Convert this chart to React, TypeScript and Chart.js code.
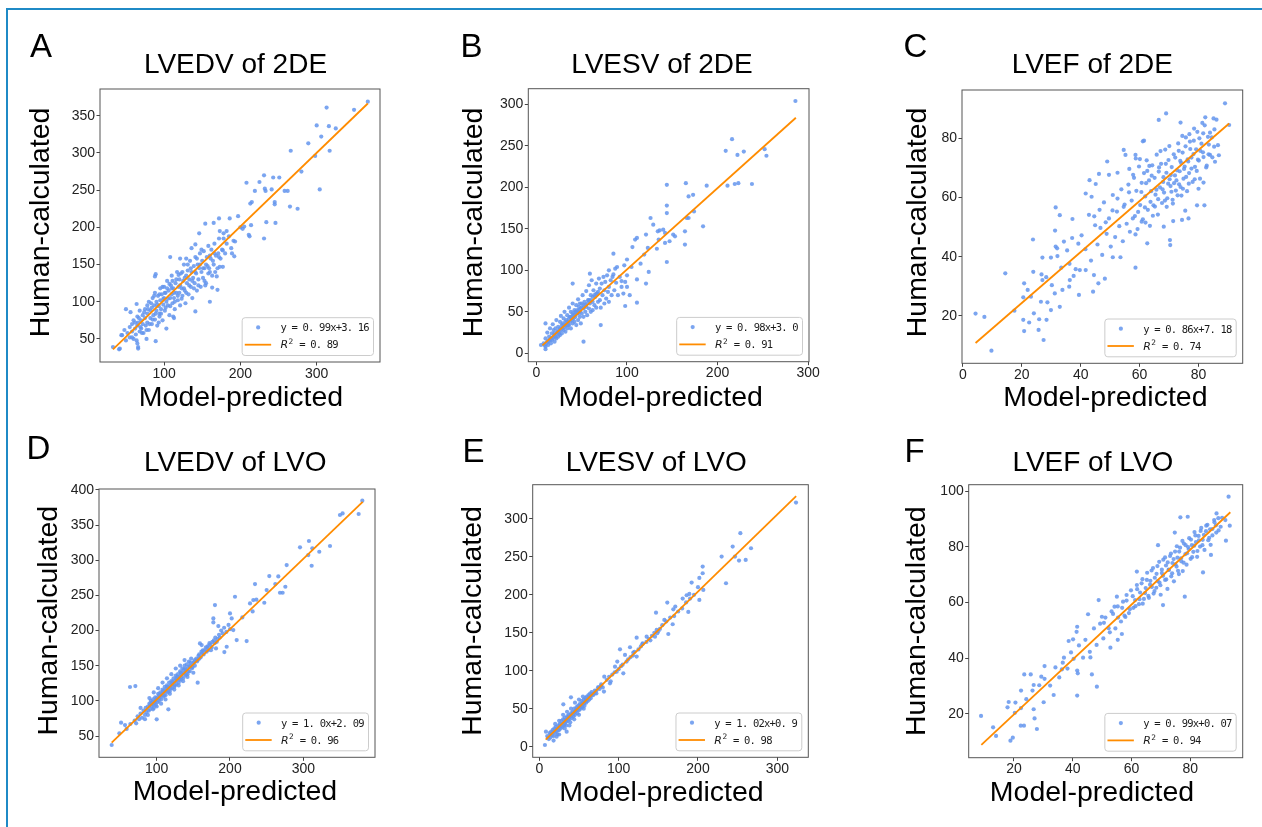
import React, { useEffect, useRef } from "react";
import { Chart, registerables } from "chart.js";

Chart.register(...registerables);

// ---------------- shared text ----------------
const X_LABEL = "Model-predicted";
const Y_LABEL = "Human-calculated";

// ---------------- Panel A : LVEDV of 2DE ----------------
const A_TITLE = "LVEDV of 2DE";
const A_X_TICKS = [100, 200, 300];
const A_Y_TICKS = [50, 100, 150, 200, 250, 300, 350];
const A_X_RANGE = [16, 383];
const A_Y_RANGE = [19, 386];
const A_FIT = [[33, 36], [367, 366.5]];
const A_EQ = "y = 0. 99x+3. 16";
const A_R2 = " = 0. 89";
const A_POINTS = [
  [367,369],[313,361],[349,358],[300,337],[316,336],[325,333],[306,322],[289,313],[266,303],[317,303],[298,296],[280,275],
  [231,270],[208,260],[225,261],[243,267],[251,267],[232,252],[233,249],[219,249],[241,251],[258,249],[262,249],[304,251],
  [245,234],[245,231],[213,232],[215,234],[265,228],[275,225],[200,200],[203,198],[205,201],[214,203],[211,190],[212,188],
  [234,207],[246,206],[231,185],[197,215],[186,212],[172,212],[182,195],[191,182],[193,181],[178,185],[177,169],[189,165],
  [192,161],[166,165],[173,147],[177,147],[169,134],[170,116],[160,100],[141,87],[163,119],[154,122],[159,145],[172,160],
  [146,192],[154,205],[165,206],[173,195],[141,177],[136,172],[129,158],[121,158],[108,160],[89,137],[88,134],[64,97],
  [50,90],[56,86],[44,55],[33,39],[41,36],[42,37],[66,39],[66,37],[65,44],[77,50],[89,47],[103,64],[112,80],[113,78],[94,84],
  [45,55],[48,62],[50,48],[52,58],[55,52],[55,66],[58,70],[58,60],[60,50],[60,75],[62,64],[63,56],[65,80],[65,68],[66,72],
  [68,60],[68,88],[70,75],[70,64],[72,82],[72,70],[73,58],[75,90],[75,78],[76,68],[78,95],[78,84],[78,72],[80,62],[80,100],
  [82,88],[82,78],[84,92],[84,70],[85,105],[86,82],[87,95],[88,76],[88,112],[90,100],[90,88],[91,68],[92,108],[93,94],[94,80],
  [95,118],[95,102],[96,90],[97,110],[98,75],[99,96],[100,105],[100,120],[101,88],[102,112],[103,100],[104,128],[105,95],
  [106,115],[107,82],[108,105],[109,122],[110,110],[110,135],[111,98],[112,118],[113,105],[114,90],[115,125],[116,112],
  [117,140],[118,102],[119,120],[120,130],[120,112],[121,95],[122,138],[123,118],[124,108],[125,128],[126,150],[127,115],
  [128,98],[129,135],[130,125],[131,142],[132,110],[133,130],[134,155],[135,120],[136,140],[137,105],[138,132],[139,148],
  [140,125],[141,160],[142,138],[143,115],[144,150],[145,130],[146,145],[147,165],[148,120],[149,140],[150,155],[151,132],
  [152,168],[153,145],[155,125],[156,160],[157,148],[158,175],[160,140],[161,158],[162,170],[163,135],[165,150],[166,178],
  [168,162],[170,145],[172,185],[174,158],[176,170],[178,192],[180,165],[182,178],[185,188],[188,172],
  [58,52],[62,72],[64,48],[67,78],[69,66],[71,58],[74,86],[77,62],[79,90],[81,70],[83,98],[85,76],[87,108],[89,84],[91,96],
  [93,72],[94,110],[96,84],[98,120],[99,104],[101,112],[102,92],[104,118],[105,104],[107,124],[108,94],[110,118],[111,128],
  [113,112],[114,100],[116,130],[118,108],[119,136],[121,122],[123,104],[124,140],[126,118],[127,132],[129,112],[131,150],
  [133,122],[135,145],[137,128],[139,118],[141,140],[143,158],[145,122],[147,150],[149,170],[151,145],[153,128],[155,150],
  [158,138],[160,162],[164,155],[167,140],[171,165],
];

// ---------------- Panel B : LVESV of 2DE ----------------
const B_TITLE = "LVESV of 2DE";
const B_X_TICKS = [0, 100, 200, 300];
const B_Y_TICKS = [0, 50, 100, 150, 200, 250, 300];
const B_X_RANGE = [-9, 301];
const B_Y_RANGE = [-10.1, 318.8];
const B_FIT = [[6.6, 9.5], [286.5, 283.8]];
const B_EQ = "y = 0. 98x+3. 0";
const B_R2 = " = 0. 91";
const B_POINTS = [
  [286,304],[216,258],[209,244],[222,239],[229,243],[252,246],[254,238],[144,203],[165,205],[188,202],[211,202],[219,204],
  [223,205],[238,204],[168,189],[173,191],[144,178],[144,169],[174,171],[166,163],[168,163],[184,153],[164,147],[164,131],
  [126,163],[129,155],[134,147],[136,148],[140,149],[142,145],[151,143],[153,141],[147,135],[142,133],[135,137],[109,137],
  [111,139],[121,143],[123,127],[133,126],[144,110],[106,128],[119,119],[115,108],[124,98],[121,84],[111,89],[111,61],[98,57],
  [103,70],[100,80],[94,87],[85,120],[100,113],[97,106],[89,104],[87,102],[80,100],[84,92],[105,104],[71,34],[52,14],[40,84],
  [59,96],[10,5],[5,10],[10,36],
  [8,12],[10,8],[10,18],[12,14],[12,25],[13,10],[14,20],[15,16],[15,30],[16,12],[17,24],[18,18],[18,35],[19,28],[20,14],
  [20,22],[21,30],[22,18],[22,40],[23,26],[24,32],[24,20],[25,28],[26,38],[26,22],[27,45],[28,30],[28,24],[29,36],[30,28],
  [30,42],[31,50],[32,34],[32,26],[33,40],[34,46],[34,30],[35,38],[36,55],[36,34],[37,44],[38,30],[38,50],[39,40],[40,36],
  [40,60],[41,46],[42,38],[42,52],[43,44],[44,34],[44,58],[45,48],[46,40],[46,65],[47,52],[48,44],[48,60],[49,36],[50,55],
  [50,48],[51,70],[52,58],[52,44],[53,62],[54,50],[55,75],[55,56],[56,46],[57,64],[58,54],[58,82],[59,60],[60,50],[60,70],
  [61,88],[62,62],[62,52],[63,76],[64,58],[65,68],[66,84],[66,55],[67,72],[68,62],[69,90],[70,78],[70,64],[71,55],[72,84],
  [73,70],[74,92],[75,60],[75,76],[76,86],[77,66],[78,94],[79,74],[80,80],[80,62],[82,88],[83,70],[85,95],[86,76],[88,85],
  [90,70],[92,92],[94,80],[96,72],[98,86],[100,94],
  [9,10],[11,12],[13,14],[14,16],[16,18],[17,16],[19,20],[20,24],[21,20],[23,24],[24,26],[25,24],[26,30],[27,28],[28,34],
  [29,30],[30,34],[31,32],[32,38],[33,34],[34,38],[35,34],[36,42],[37,38],[38,44],[39,42],[40,48],[41,42],[42,46],[43,50],
  [44,48],[45,52],[46,48],[47,56],[48,50],[49,54],[50,60],[52,54],[54,58],[56,60],[58,64],[60,64],[62,68],[64,70],[66,72],
  [68,74],
];

// ---------------- Panel C : LVEF of 2DE ----------------
const C_TITLE = "LVEF of 2DE";
const C_X_TICKS = [0, 20, 40, 60, 80];
const C_Y_TICKS = [20, 40, 60, 80];
const C_X_RANGE = [-0.3, 95];
const C_Y_RANGE = [4.05, 96.2];
const C_FIT = [[4.3, 10.9], [90.4, 84.9]];
const C_EQ = "y = 0. 86x+7. 18";
const C_R2 = " = 0. 74";
const C_POINTS = [
  [89,91.7],[90.4,84.4],[69,88.3],[66.5,86.1],[82.3,87],[85.1,86.6],[73.9,85.2],[61.1,78.9],[61.5,79.1],[54.6,76],[55.2,74.3],
  [58.6,74.3],[49,72.1],[46.2,67.9],[49.6,67.6],[52.5,68.3],[43,65.8],[45.1,64.5],[41.7,61.3],[43.7,60.2],[31.5,56.6],[32.9,54],
  [37.2,52.7],[31.3,48.8],[23.8,45.8],[31.5,43.4],[32,42.8],[29.9,39.7],[27,39.7],[14.4,34.4],[23.9,34.9],[26.7,34],[27,32.1],
  [20.8,31],[20.5,26.3],[22,28.8],[26.5,24.8],[28.7,24.6],[24.1,20.9],[20.5,18.7],[22.5,17.8],[25.9,18.9],[28.4,18.7],
  [25.7,15.3],[20.8,14.9],[27.4,11.9],[9.7,8.3],[4.3,20.8],[7.3,19.7],[17.5,21.8],[23.1,26.5],[31.2,27.6],[32.9,23.1],[29.9,22],
  [33.8,28.8],[36.1,29.9],[36.3,32.1],[37.6,33.5],[39.4,27.1],[39.7,35.5],[41.7,35.5],[44.5,33.8],[44.2,28.2],[46,31],
  [48.2,32.6],[50.9,39.8],[53.5,39.8],[58.6,36.3],[70.3,45.6],[70.4,43.9],[79.5,57.3],[82,57.3],[75.5,55.5],[76.6,52.9],
  [74.4,52.4],[68.2,50.1],[71.4,52],[62,51.5],[62.6,44.5],[81.7,65],[80,62.9],[85.6,72],[83.4,74.5],[83.9,81.8],[81.6,81.6],
  [40.3,47.2],[41.6,42.5],[42.8,54.1],[43.5,38.7],[44.9,50.6],[45.7,44.1],[46.4,55.8],[47.3,40.6],[47.9,58.3],[48.8,47.7],
  [49.6,52.9],[50.2,43.4],[50.9,60.8],[51.7,46.6],[52.3,55.2],[53.1,50.3],[53.8,62.7],[54.3,45.2],[54.9,57.6],[55.6,51.1],
  [56.2,64.3],[56.7,48.4],[57.3,58.9],[57.8,67.6],[58.4,53.7],[58.9,62.2],[59.3,49.3],[59.8,70.4],[60.2,57.4],[60.7,64.9],
  [61.1,52.6],[61.5,68.2],[61.9,60.3],[62.4,72.5],[62.8,55.8],[63.2,65.7],[63.5,50.4],[63.9,62.1],[64.3,70.8],[64.7,57.3],
  [65.1,66.6],[65.4,60.9],[65.8,74.4],[66.2,54.2],[66.5,68.7],[66.9,63.4],[67.3,71.3],[67.6,58.1],[68,65.2],[68.3,61.6],
  [68.7,76.1],[69.1,68.3],[69.4,59.7],[69.8,72.6],[70.2,66.1],[70.5,63.8],[70.9,70.2],[71.3,57.9],[71.6,74.5],[72,67.4],
  [72.3,62.3],[72.7,69.1],[73.1,78.2],[73.4,64.4],[73.8,72.3],[74.2,60.6],[74.6,75.1],[74.9,66.3],[75.3,70.4],[75.7,80.2],
  [76.1,62.1],[76.5,72.1],[76.8,68.2],[77.2,76.3],[77.6,73.4],[78,65.2],[78.4,79.1],[78.8,70.3],[79.2,76.2],[79.6,82.1],
  [80.1,72.4],[80.5,66.3],[81,78.1],[81.5,75.2],[82.1,84.3],[82.6,70.1],[83.2,80.4],[83.9,74.3],[84.5,80.2],[85.3,77.1],
  [86.1,86.2],[86.9,74.2],[35.4,42.1],[36.2,37.6],[37.1,46.3],[38.3,35.8],[39.2,44.4],[33.4,36.3],[34.3,45.1],[30.2,30.4],
  [32.1,40.2],[28.3,33.1],
  [56.4,61.7],[57.7,52.9],[58.1,66.6],[59.5,55.1],[60.6,61.8],[60.1,72.9],[61.8,56.6],[62.2,64.8],[62.6,68.9],[63.7,58.5],
  [63.3,70.6],[64.5,53.8],[64.1,67.3],[65.7,62.6],[65.2,56.9],[66.6,70.1],[66.3,59.4],[67.8,62.7],[67.1,75.6],[68.6,58.9],
  [68.1,66.8],[68.9,71.3],[69.7,64.6],[69.2,56.8],[70.6,67.5],[70.1,77.3],[70.8,61.9],[71.7,64.8],[71.2,59.2],[72.5,65.7],
  [72.1,73.4],[72.9,60.7],[73.6,68.8],[73.3,75.7],[73.9,63.5],[74.7,62.9],[74.1,71.6],[74.5,80.7],[75.8,66.9],[75.1,69.6],
  [75.6,77.2],[76.7,64.6],[76.3,72.8],[76.9,81.3],[77.6,69.7],[77.1,78.8],[78.7,66.1],[78.3,74.6],[78.5,83.2],[79.8,72.7],
  [79.4,68.9],[80.6,75.7],[80.3,79.9],[81.7,73.6],[81.3,85.1],[82.8,70.7],[83.5,77.8],[84.7,73.5],[85.4,82.9],[86.6,77.6],
  [60.7,51.8],[58.6,47.5],[54.6,56.8],[52.5,59.6],[50.8,55.6],[48.5,51.6],[46.7,49.7],[44.6,53.6],[56.5,69.6],[58.7,73.1],
];

// ---------------- Panel D : LVEDV of LVO ----------------
const D_TITLE = "LVEDV of LVO";
const D_X_TICKS = [100, 200, 300];
const D_Y_TICKS = [50, 100, 150, 200, 250, 300, 350, 400];
const D_X_RANGE = [21.3, 397.8];
const D_Y_RANGE = [19.7, 401.4];
const D_FIT = [[38.6, 40.7], [381, 383]];
const D_EQ = "y = 1. 0x+2. 09";
const D_R2 = " = 0. 96";
const D_POINTS = [
  [380.5,384.8],[375.5,365.8],[350,364.4],[353.6,366.7],[307.7,327.4],[295.5,318.4],[312.3,317],[336.4,320.3],[321.8,312.1],
  [306.8,307.4],[311.4,292.2],[277.3,293.1],[253.6,277.5],[265.9,277],[261.8,266.1],[234.1,266.1],[250,257.6],[268.2,253.8],
  [271.8,253.8],[275.5,262.3],[246.8,239.6],[231.8,243.4],[236,244],[206.8,248.1],[227.3,238.6],[230.9,227.3],[222.7,185.1],
  [216.8,218.7],[179.5,236.3],[200,224.4],[202.3,217.3],[177.3,217.3],[177.3,211.6],[184.1,206.4],[204.5,200.7],[209.1,186.5],
  [195.5,177],[192.3,169.4],[180.9,174.6],[161.4,179.4],[159,181.7],[155.9,125.8],[93.2,97.4],[100,73.7],[115.9,87.9],
  [63.6,119.7],[70.9,121.1],[38.6,37.2],[49.1,53.8],[51.4,69],[56.8,65.6],[59,60],[64.1,67.1],
  [70,72],[72,68],[74,78],[76,74],[78,82],[80,76],[82,86],[84,80],[85,90],[86,84],[88,92],[89,86],[90,96],[91,88],[92,100],
  [93,92],[94,96],[95,102],[96,90],[97,98],[98,105],[99,94],[100,104],[101,98],[102,110],[103,100],[104,106],[105,112],
  [106,102],[107,108],[108,116],[109,106],[110,112],[111,120],[112,108],[113,114],[114,122],[115,112],[116,118],[117,126],
  [118,114],[119,122],[120,128],[121,118],[122,124],[123,132],[124,120],[125,128],[126,136],[127,124],[128,130],[129,138],
  [130,126],[131,134],[132,142],[133,130],[134,138],[135,146],[136,132],[137,140],[138,150],[139,136],[140,144],[141,152],
  [142,138],[143,148],[144,156],[145,142],[146,150],[147,160],[148,146],[150,154],[152,150],[154,160],[156,158],[158,166],
  [160,162],[162,168],[165,172],[168,170],[170,178],[172,182],[175,176],[178,186],[180,190],[182,184],[185,194],[188,200],
  [190,196],[192,204],[195,198],[198,208],[200,202],[84,74],[88,80],[95,88],[100,92],[106,96],[112,102],[118,110],[124,116],
  [130,122],[136,128],[142,134],[150,140],[78,90],[90,104],[96,112],[102,118],[108,126],[114,132],[120,138],[126,146],
  [132,150],[138,158],
  [95,95],[98,100],[101,103],[104,104],[107,110],[110,108],[113,117],[116,114],[119,118],[122,127],[125,122],[128,134],
  [131,130],[134,134],[137,144],[140,138],[143,142],[146,154],[149,148],[152,158],[155,156],[158,160],[161,170],[164,166],
  [167,176],[170,172],[173,180],[176,184],[179,182],[183,188],[186,190],[91,94],[97,96],[103,108],[109,114],[115,120],
  [121,124],[127,132],[133,140],[139,146],[145,148],[151,155],[157,164],[163,172],[169,176],[174,172],
];

// ---------------- Panel E : LVESV of LVO ----------------
const E_TITLE = "LVESV of LVO";
const E_X_TICKS = [0, 100, 200, 300];
const E_Y_TICKS = [0, 50, 100, 150, 200, 250, 300];
const E_X_RANGE = [-8.3, 339];
const E_Y_RANGE = [-14, 345];
const E_FIT = [[8.1, 9.2], [323.7, 330]];
const E_EQ = "y = 1. 02x+0. 9";
const E_R2 = " = 0. 98";
const E_POINTS = [
  [323.5,321.5],[253.4,281.1],[243.7,263.5],[266.8,261.3],[229.8,250.3],[246.6,250.3],[251.7,245.1],[260.1,245.9],
  [235.3,215.2],[205.9,237.2],[205.9,228.4],[201.7,222.2],[206.7,206.4],[201.7,193.2],[192,216.1],[189.1,201.1],
  [185.7,199.4],[180.7,195],[187.8,177.4],[171.4,184.5],[168.9,180.9],[161.3,189.7],[168.1,161.2],[157.6,166.9],
  [162.6,148.4],[147.1,176.5],[147.9,153.7],[145.8,144.9],[148.7,149.5],[135.3,144.9],[130.3,136.1],[122.7,143.6],
  [114.3,130.9],[101.7,128.2],[108,120.8],[122.7,118.6],[118.5,123.9],[98.3,112],[95.4,105.4],[105.9,96.6],[97.5,98.8],
  [81.9,92.2],[89.1,83.4],[81.5,72.5],[39.9,65],[30.3,55.8],[7.1,2.2],[8.4,19.8],[21.8,13.2],[34.5,19.8],
  [85,88],[88,92],[90,86],[92,95],[95,98],[100,102],[103,106],[105,108],[110,112],[112,115],[115,118],[118,120],[120,125],
  [125,128],[128,132],[130,135],[135,138],[138,142],[140,140],[142,146],[145,150],[150,152],[152,155],[155,160],[160,165],
  [165,170],[170,172],[175,178],[180,182],[185,190],[190,195],[195,200],[200,210],
  [10,14],[12,10],[13,18],[14,12],[15,20],[16,15],[17,22],[18,14],[19,24],[20,18],[21,26],[22,20],[23,16],[24,28],[25,22],
  [26,30],[27,24],[28,34],[29,26],[30,30],[30,36],[31,28],[32,38],[33,32],[34,28],[35,40],[36,34],[37,42],[38,36],[39,32],
  [40,44],[41,38],[42,46],[43,40],[44,50],[45,42],[46,48],[47,52],[48,44],[49,54],[50,48],[51,56],[52,50],[53,60],[54,52],
  [55,58],[56,62],[57,54],[58,64],[59,58],[60,66],[61,60],[62,68],[63,62],[64,70],[65,64],[66,72],[68,68],[70,74],[72,70],
  [74,78],[76,76],[78,82],[80,78],[20,30],[25,34],[30,42],[35,46],[40,50],[45,58],[50,62],[55,66],[18,8],[25,16],[32,24],
  [38,28],[44,36],[50,42],[56,50],
  [11,12],[14,16],[17,18],[19,20],[21,22],[23,24],[24,22],[26,27],[27,28],[28,28],[29,30],[31,32],[32,30],[33,35],[34,34],
  [35,36],[36,38],[37,38],[38,40],[39,40],[40,41],[41,42],[42,43],[43,44],[44,45],[45,46],[46,47],[47,48],[48,49],[49,50],
  [50,51],[51,52],[52,54],[53,55],[54,56],[55,56],[56,57],[57,58],[58,60],[59,61],[60,62],[62,64],[64,66],[66,68],[68,70],
  [70,70],[72,74],[75,78],[78,80],
];

// ---------------- Panel F : LVEF of LVO ----------------
const F_TITLE = "LVEF of LVO";
const F_X_TICKS = [20, 40, 60, 80];
const F_Y_TICKS = [20, 40, 60, 80, 100];
const F_X_RANGE = [4.6, 97.8];
const F_Y_RANGE = [4.3, 102.3];
const F_FIT = [[8.9, 8.9], [93.6, 92.4]];
const F_EQ = "y = 0. 99x+0. 07";
const F_R2 = " = 0. 94";
const F_POINTS = [
  [93,98],[93.4,87.6],[92.1,82.2],[91.9,89.6],[88.9,92],[76.6,90.6],[79.1,90.8],[74.7,85.1],[69,80.6],[84.3,70.8],[87,77.1],
  [78.1,62.1],[70.7,59.1],[61.8,71.1],[48.2,29.8],[41.5,26.6],[27.8,14.6],[23.4,15.8],[22.3,15.8],[18.8,10.4],[19.6,11.5],
  [13.9,12.1],[12.9,15.2],[8.8,19.3],[17.8,22.4],[20.5,24.1],[22.4,28.4],[23.5,34.2],[25.7,34.2],[26.7,30.4],[26.7,21.7],
  [27,18.4],[30.4,37.2],[29.3,33.4],[30.1,24.2],[33.5,26.8],[36.3,36],[37,40.2],[38.6,46.2],[40.1,46.8],[41.5,51.3],
  [41.3,49.5],[41.5,35.6],[41.7,34.6],[45.2,55.8],[46,40.3],[46.5,34.2],[52.8,43.8],[55.3,46.6],[56.7,48.7],[54.2,58.5],
  [49.9,54.9],[55,62.1],[48.8,60.9],
  [44.3,46.6],[45.8,42.3],[47.2,50.7],[48.1,44.8],[49.3,52.4],[50.4,47.1],[51.1,54.6],[52.6,49.3],[53.2,56.8],[54.5,50.7],
  [55.3,58.6],[56.4,53.2],[57.1,60.3],[57.9,54.8],[58.3,62.7],[59.4,57.6],[59.8,64.4],[60.6,58.1],[61.2,60.9],[61.8,66.3],
  [62.5,59.4],[62.9,63.6],[63.7,68.4],[64.2,61.3],[64.8,65.2],[65.3,70.7],[65.7,62.4],[66.4,67.8],[66.9,65.6],[67.3,72.4],
  [67.8,64.1],[68.5,70.3],[68.9,67.7],[69.4,74.6],[69.8,66.2],[70.3,71.8],[70.7,69.6],[71.4,76.2],[71.8,68.3],[72.3,74.4],
  [72.7,71.7],[73.4,77.6],[73.8,70.5],[74.3,75.6],[74.9,73.7],[75.4,80.2],[75.8,71.4],[76.2,78.3],[76.8,75.9],[77.3,82.1],
  [77.7,74.3],[78.4,80.6],[78.9,77.7],[79.5,79.1],[80.2,82.6],[80.6,76.3],[81.3,80.4],[81.7,84.1],[82.4,78.5],[82.9,82.3],
  [83.5,85.7],[84.1,80.6],[84.6,84.3],[85.4,87.6],[86.1,82.4],[86.7,86.3],[87.5,84.1],[88.1,89.6],[88.7,87.7],[89.6,85.9],
  [90.8,90.4],[30.4,32.6],[32.3,30.2],[34.1,36.7],[35.4,33.1],[36.6,38.4],[38.2,36.3],[39.4,42.1],[40.3,39.8],[42.1,44.6],
  [43.5,40.2],[26.3,28.4],[24.2,25.3],[22.4,22.1],[20.3,20.4],[18.2,24.3],[28.6,30.3],
  [60.4,62.3],[61.3,58.7],[61.9,64.8],[62.7,61.2],[63.4,66.9],[63.8,59.6],[64.6,63.4],[65.2,68.1],[65.9,61.7],[66.3,66.4],
  [66.8,71.5],[67.5,63.2],[67.9,68.9],[68.4,65.3],[68.8,73.1],[69.5,67.2],[69.9,62.8],[70.3,70.6],[70.8,75.4],[71.4,68.1],
  [71.7,73.3],[72.2,64.9],[72.6,71.8],[73.1,76.7],[73.5,69.4],[73.9,74.2],[74.4,67.6],[74.8,78.3],[75.3,72.9],[75.6,76.1],
  [76.1,70.2],[76.5,79.7],[76.9,74.8],[77.4,71.3],[77.8,81.2],[78.3,77.4],[78.7,73.6],[79.2,79.9],[79.6,83.1],[80.1,75.7],
  [80.5,80.6],[81,78.2],[81.4,85.3],[81.9,81.7],[82.3,76.4],[82.8,83.9],[83.3,80.1],[83.7,86.8],[84.2,82.5],[84.8,78.9],
  [85.3,85.6],[85.8,87.9],[86.4,83.2],[86.9,80.7],[87.5,86.4],[88.2,88.8],[88.8,85.1],[89.5,90.3],[90.3,87.2],[56.8,58.1],
  [57.6,55.3],[58.3,60.7],[59.1,56.2],[55.4,54.6],[53.7,55.9],[52.2,50.8],[50.6,52.7],
];

// ---------------- styling ----------------
const FONT = "'Liberation Sans', Arial, Helvetica, sans-serif";
const POINT_COLOR = "rgba(100,149,237,0.85)";
const LINE_COLOR = "#ff8c00";
const SPINE_COLOR = "#555555";
const FRAME_COLOR = "#1f8ac6";

type Layout = {
  area: number[]; // l, t, r, b (page px)
  titleCY: number;
  yTitleCX: number;
  xTitleCY: number;
  letter: number[]; // cap left, cap top
  titleDX: number;
  xTitleDX: number;
  yTitleDY: number;
};

type PanelDef = {
  letter: string;
  title: string;
  xTicks: number[];
  yTicks: number[];
  xRange: number[];
  yRange: number[];
  points: number[][];
  fit: number[][];
  eq: string;
  r2: string;
  layout: Layout;
};

const PANELS: PanelDef[] = [
  { letter: "A", title: A_TITLE, xTicks: A_X_TICKS, yTicks: A_Y_TICKS, xRange: A_X_RANGE, yRange: A_Y_RANGE, points: A_POINTS, fit: A_FIT, eq: A_EQ, r2: A_R2,
    layout: { area: [100, 89, 380, 362], titleCY: 65, yTitleCX: 41.3, xTitleCY: 398.5, letter: [30, 33], titleDX: -4.5, xTitleDX: 1, yTitleDY: -3 } },
  { letter: "B", title: B_TITLE, xTicks: B_X_TICKS, yTicks: B_Y_TICKS, xRange: B_X_RANGE, yRange: B_Y_RANGE, points: B_POINTS, fit: B_FIT, eq: B_EQ, r2: B_R2,
    layout: { area: [528.3, 88.7, 809, 361.7], titleCY: 65, yTitleCX: 474.6, xTitleCY: 398.5, letter: [460.5, 33], titleDX: -6.7, xTitleDX: -8, yTitleDY: -2.7 } },
  { letter: "C", title: C_TITLE, xTicks: C_X_TICKS, yTicks: C_Y_TICKS, xRange: C_X_RANGE, yRange: C_Y_RANGE, points: C_POINTS, fit: C_FIT, eq: C_EQ, r2: C_R2,
    layout: { area: [962, 90, 1242.7, 363.3], titleCY: 65, yTitleCX: 918, xTitleCY: 398.5, letter: [903.5, 33], titleDX: -10, xTitleDX: 3, yTitleDY: -4.2 } },
  { letter: "D", title: D_TITLE, xTicks: D_X_TICKS, yTicks: D_Y_TICKS, xRange: D_X_RANGE, yRange: D_Y_RANGE, points: D_POINTS, fit: D_FIT, eq: D_EQ, r2: D_R2,
    layout: { area: [99, 489, 375, 757.3], titleCY: 463, yTitleCX: 49.6, xTitleCY: 792.5, letter: [26.5, 435], titleDX: -1.8, xTitleDX: -2, yTitleDY: -2.4 } },
  { letter: "E", title: E_TITLE, xTicks: E_X_TICKS, yTicks: E_Y_TICKS, xRange: E_X_RANGE, yRange: E_Y_RANGE, points: E_POINTS, fit: E_FIT, eq: E_EQ, r2: E_R2,
    layout: { area: [532.7, 484.7, 808.3, 757.3], titleCY: 463.3, yTitleCX: 473.6, xTitleCY: 793, letter: [462.5, 438], titleDX: -14.3, xTitleDX: -9, yTitleDY: 0 } },
  { letter: "F", title: F_TITLE, xTicks: F_X_TICKS, yTicks: F_Y_TICKS, xRange: F_X_RANGE, yRange: F_Y_RANGE, points: F_POINTS, fit: F_FIT, eq: F_EQ, r2: F_R2,
    layout: { area: [968.7, 484.7, 1242.7, 757.7], titleCY: 463, yTitleCX: 917.6, xTitleCY: 793, letter: [904.5, 438], titleDX: -12.9, xTitleDX: -13.7, yTitleDY: 0 } },
];

const TITLE_SIZE = 28;
const AXIS_TITLE_SIZE = 28.5;
const LH = 1.2;

// frame around chart area
const boxPlugin = {
  id: "axesBox",
  afterDraw(chart: any) {
    const { ctx, chartArea: a } = chart;
    ctx.save();
    ctx.strokeStyle = SPINE_COLOR;
    ctx.lineWidth = 1;
    ctx.strokeRect(a.left, a.top, a.right - a.left, a.bottom - a.top);
    ctx.restore();
  },
};

// shift titles (title block and axis titles) to match reference placement
const shiftPlugin = {
  id: "titleShift",
  afterLayout(chart: any, _args: any, opts: any) {
    const tb = chart.titleBlock;
    if (tb) {
      tb.left += opts.titleDX || 0;
      tb.right += opts.titleDX || 0;
    }
  },
  beforeDraw(chart: any, _args: any, opts: any) {
    const sx = chart.scales.x;
    const sy = chart.scales.y;
    if (sx && !sx.__wrapped) {
      const orig = sx.drawTitle.bind(sx);
      sx.drawTitle = function () {
        const c = this.ctx;
        c.save();
        c.translate(opts.xTitleDX || 0, 0);
        orig();
        c.restore();
      };
      sx.__wrapped = true;
    }
    if (sy && !sy.__wrapped) {
      const orig = sy.drawTitle.bind(sy);
      sy.drawTitle = function () {
        const c = this.ctx;
        c.save();
        c.translate(0, opts.yTitleDY || 0);
        orig();
        c.restore();
      };
      sy.__wrapped = true;
    }
  },
};

// matplotlib-style legend in lower right
const legendPlugin = {
  id: "fitLegend",
  afterDraw(chart: any, _args: any, opts: any) {
    const { ctx, chartArea: a } = chart;
    const mono = "10.5px 'DejaVu Sans Mono', monospace";
    const rFont = "italic 11px 'DejaVu Sans', sans-serif";
    const supFont = "7.5px 'DejaVu Sans', sans-serif";
    ctx.save();
    const setMono = () => {
      ctx.font = mono;
      if ("letterSpacing" in ctx) (ctx as any).letterSpacing = "-0.8px";
    };
    const clearSpacing = () => {
      if ("letterSpacing" in ctx) (ctx as any).letterSpacing = "0px";
    };
    setMono();
    const w1 = ctx.measureText(opts.eq).width;
    const wr = ctx.measureText(opts.r2).width;
    clearSpacing();
    ctx.font = rFont;
    const wR = ctx.measureText("R").width;
    ctx.font = supFont;
    const w2 = ctx.measureText("2").width;
    const textW = Math.max(w1, wR + w2 + 0.8 + wr);
    const h = 37.8;
    const w = 38.3 + textW + 4.7;
    const x0 = a.right - 6.5 - w;
    const y0 = a.bottom - 6.5 - h;
    ctx.beginPath();
    if (ctx.roundRect) ctx.roundRect(x0, y0, w, h, 3);
    else ctx.rect(x0, y0, w, h);
    ctx.fillStyle = "rgba(255,255,255,0.8)";
    ctx.fill();
    ctx.strokeStyle = "#cccccc";
    ctx.lineWidth = 1;
    ctx.stroke();
    // marker
    ctx.beginPath();
    ctx.fillStyle = POINT_COLOR;
    ctx.arc(x0 + 16, y0 + 9.7, 2.1, 0, Math.PI * 2);
    ctx.fill();
    // line
    ctx.beginPath();
    ctx.strokeStyle = LINE_COLOR;
    ctx.lineWidth = 1.8;
    ctx.moveTo(x0 + 2.6, y0 + 27);
    ctx.lineTo(x0 + 29, y0 + 27);
    ctx.stroke();
    // texts
    ctx.fillStyle = "#1a1a1a";
    ctx.textBaseline = "alphabetic";
    ctx.textAlign = "left";
    const tx = x0 + 38.3;
    setMono();
    ctx.fillText(opts.eq, tx, y0 + 13.6);
    const by = y0 + 30.6;
    clearSpacing();
    ctx.font = rFont;
    ctx.fillText("R", tx, by);
    ctx.font = supFont;
    ctx.fillText("2", tx + wR + 0.5, by - 4.2);
    setMono();
    ctx.fillText(opts.r2, tx + wR + w2 + 0.8, by);
    clearSpacing();
    ctx.restore();
  },
};

function geometry(L: Layout) {
  const [al, at, ar, ab] = L.area;
  const yTitleLeft = L.yTitleCX - (AXIS_TITLE_SIZE * LH) / 2;
  const cl = Math.floor(yTitleLeft) - 2;
  const titleTop = L.titleCY - (TITLE_SIZE * LH) / 2;
  const ct = Math.floor(titleTop) - 2;
  const xTitleBottom = L.xTitleCY + (AXIS_TITLE_SIZE * LH) / 2;
  const cb = Math.ceil(xTitleBottom) + 2;
  const cr = Math.min(Math.ceil(ar) + 25, 1261);
  return {
    cl, ct, cw: cr - cl, ch: cb - ct,
    padding: { left: yTitleLeft - cl, top: titleTop - ct, right: cr - ar, bottom: cb - xTitleBottom },
    yAxisW: al - yTitleLeft,
    xAxisH: xTitleBottom - ab,
    titlePadBottom: at - titleTop - TITLE_SIZE * LH,
  };
}

function Panel({ p }: { p: PanelDef }) {
  const ref = useRef<HTMLCanvasElement | null>(null);
  const g = geometry(p.layout);

  useEffect(() => {
    if (!ref.current) return;
    const tickFont = { family: FONT, size: 14 };
    const chart = new Chart(ref.current, {
      type: "scatter",
      data: {
        datasets: [
          {
            type: "line",
            label: "fit",
            data: p.fit.map(([x, y]) => ({ x, y })),
            borderColor: LINE_COLOR,
            borderWidth: 1.8,
            pointRadius: 0,
            fill: false,
            tension: 0,
          } as any,
          {
            label: "points",
            data: p.points.map(([x, y]) => ({ x, y })),
            backgroundColor: POINT_COLOR,
            pointBackgroundColor: POINT_COLOR,
            pointBorderWidth: 0,
            borderWidth: 0,
            pointRadius: 2.1,
          } as any,
        ],
      },
      options: {
        responsive: true,
        maintainAspectRatio: false,
        animation: false,
        events: [],
        layout: { padding: g.padding },
        plugins: {
          legend: { display: false },
          tooltip: { enabled: false },
          title: {
            display: true,
            text: p.title,
            fullSize: false,
            color: "#000000",
            font: { family: FONT, size: TITLE_SIZE, weight: "normal", lineHeight: LH },
            padding: { top: 0, bottom: g.titlePadBottom },
          },
          fitLegend: { eq: p.eq, r2: p.r2 },
          titleShift: { titleDX: p.layout.titleDX, xTitleDX: p.layout.xTitleDX, yTitleDY: p.layout.yTitleDY },
        } as any,
        scales: {
          x: {
            type: "linear",
            min: p.xRange[0],
            max: p.xRange[1],
            afterBuildTicks: (s: any) => { s.ticks = p.xTicks.map((v) => ({ value: v })); },
            afterFit: (s: any) => { s.height = g.xAxisH; },
            grid: { display: true, drawOnChartArea: false, drawTicks: true, tickLength: 3.5, color: "#444444", tickWidth: 1 },
            border: { display: false },
            ticks: { font: tickFont, color: "#222222", padding: 0, maxRotation: 0, autoSkip: false, callback: (v: any) => String(v) },
            title: { display: true, text: X_LABEL, color: "#000000", font: { family: FONT, size: AXIS_TITLE_SIZE, lineHeight: LH }, padding: 0 },
          },
          y: {
            type: "linear",
            min: p.yRange[0],
            max: p.yRange[1],
            afterBuildTicks: (s: any) => { s.ticks = p.yTicks.map((v) => ({ value: v })); },
            afterFit: (s: any) => { s.width = g.yAxisW; },
            grid: { display: true, drawOnChartArea: false, drawTicks: true, tickLength: 3.5, color: "#444444", tickWidth: 1 },
            border: { display: false },
            ticks: { font: tickFont, color: "#222222", padding: 1.5, autoSkip: false, callback: (v: any) => String(v) },
            title: { display: true, text: Y_LABEL, color: "#000000", font: { family: FONT, size: AXIS_TITLE_SIZE, lineHeight: LH }, padding: 0 },
          },
        },
      } as any,
      plugins: [shiftPlugin, boxPlugin, legendPlugin],
    });
    return () => chart.destroy();
  }, []);

  return (
    <>
      <div style={{ position: "absolute", left: g.cl, top: g.ct, width: g.cw, height: g.ch }}>
        <canvas ref={ref} />
      </div>
      <div
        style={{
          position: "absolute",
          left: p.layout.letter[0],
          top: p.layout.letter[1] - 4.3,
          fontFamily: FONT,
          fontSize: 33,
          lineHeight: "33px",
          color: "#000",
        }}
      >
        {p.letter}
      </div>
    </>
  );
}

export default function App() {
  useEffect(() => {
    document.body.style.overflow = "hidden";
  }, []);
  return (
    <div style={{ position: "absolute", left: 0, top: 0, width: 1262, height: 827, background: "#fff" }}>
      <div
        style={{
          position: "absolute",
          left: 6,
          top: 8,
          width: 1256,
          height: 819,
          boxSizing: "border-box",
          borderTop: `2px solid ${FRAME_COLOR}`,
          borderLeft: `2px solid ${FRAME_COLOR}`,
        }}
      />
      {PANELS.map((p) => (
        <Panel key={p.letter} p={p} />
      ))}
    </div>
  );
}
